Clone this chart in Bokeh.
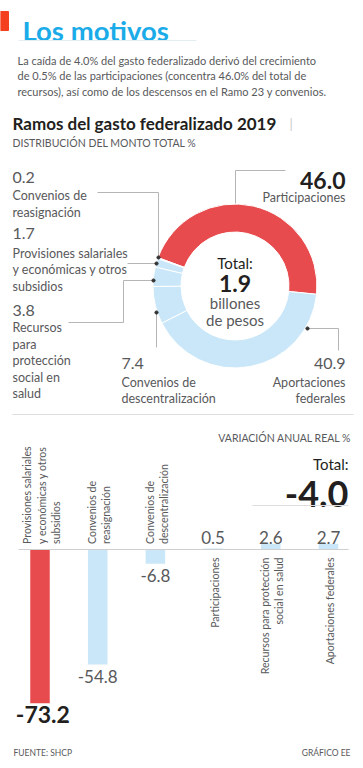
import math
from bokeh.plotting import figure
from bokeh.layouts import column
from bokeh.models import Range1d
from bokeh.core.properties import value
from bokeh.embed import file_html
from bokeh.resources import INLINE

# ---------------- data ----------------
title = "Los motivos"
intro_lines = ["La caída de 4.0% del gasto federalizado derivó del crecimiento",
               "de 0.5% de las participaciones (concentra 46.0% del total de",
               "recursos), así como de los descensos en el Ramo 23 y convenios."]
chart_title = "Ramos del gasto federalizado 2019"
donut_subtitle = "DISTRIBUCIÓN DEL MONTO TOTAL %"
donut_categories = ["Participaciones", "Convenios de reasignación",
                    "Provisiones salariales y económicas y otros subsidios",
                    "Recursos para protección social en salud",
                    "Convenios de descentralización", "Aportaciones federales"]
donut_shares = [46.0, 0.2, 1.7, 3.8, 7.4, 40.9]
total_amount = 1.9
total_unit = ["billones", "de pesos"]

bar_subtitle = "VARIACIÓN ANUAL REAL %"
bar_categories = ["Provisiones salariales y económicas y otros subsidios",
                  "Convenios de reasignación", "Convenios de descentralización",
                  "Participaciones", "Recursos para protección social en salud",
                  "Aportaciones federales"]
bar_values = [-73.2, -54.8, -6.8, 0.5, 2.6, 2.7]
total_change = -4.0
source = "FUENTE: SHCP"
credit = "GRÁFICO EE"

# line breaks used when drawing category names
donut_label_lines = {
    "Participaciones": ["Participaciones"],
    "Convenios de reasignación": ["Convenios de", "reasignación"],
    "Provisiones salariales y económicas y otros subsidios": ["Provisiones salariales", "y económicas y otros", "subsidios"],
    "Recursos para protección social en salud": ["Recursos", "para", "protección", "social en", "salud"],
    "Convenios de descentralización": ["Convenios de", "descentralización"],
    "Aportaciones federales": ["Aportaciones", "federales"],
}
bar_label_lines = {
    "Provisiones salariales y económicas y otros subsidios": ["Provisiones salariales", "y económicas y otros", "subsidios"],
    "Convenios de reasignación": ["Convenios de", "reasignación"],
    "Convenios de descentralización": ["Convenios de", "descentralización"],
    "Participaciones": ["Participaciones"],
    "Recursos para protección social en salud": ["Recursos para protección", "social en salud"],
    "Aportaciones federales": ["Aportaciones federales"],
}

# ---------------- styles ----------------
FONT = "Lato"
GRAY = "#58595b"
DARK = "#231f20"
RED = "#e84b4d"
BLUE = "#c9e7f8"
TITLE_BLUE = "#1aabe8"
LINE = "#b5b5b5"

W = 363
SPLIT = 405
H1 = SPLIT        # page y 0..405
H2 = 768 - SPLIT  # page y 405..768


def make_fig(h, xr, yr):
    f = figure(width=W, height=h, x_range=xr, y_range=yr, output_backend="svg",
               toolbar_location=None, x_axis_location=None, y_axis_location=None,
               min_border=0, outline_line_color=None, background_fill_color="white",
               border_fill_color="white")
    f.xgrid.visible = False
    f.ygrid.visible = False
    return f

# ================= top figure (page pixel coords) =================
p1 = make_fig(H1, Range1d(0, W), Range1d(0, H1))
X = lambda rx: rx
Y = lambda ry: SPLIT - ry


def t1(rx, ry, s, size, color=GRAY, bold=False, align="left"):
    p1.text(x=[X(rx)], y=[Y(ry)], text=[s], text_font=value(FONT),
            text_font_size=f"{size}px", text_font_style="bold" if bold else "normal",
            text_color=color, text_align=align, text_baseline="alphabetic")


def lines1(rx, ry, lines, size, step, color=GRAY, align="left"):
    for j, s in enumerate(lines):
        t1(rx, ry + j * step, s, size, color=color, align=align)

# header
p1.quad(left=[0], right=[8], top=[Y(11)], bottom=[Y(30)], color="#f4401f")
t1(22, 30, title, 27.5, color=TITLE_BLUE, bold=True)
p1.line(x=[X(18), X(196)], y=[Y(40), Y(40)], line_color="#e3edf2", line_width=1)
lines1(17, 59.5, intro_lines, 11, 15.8)
t1(12, 123, chart_title, 17, color=DARK, bold=True)
t1(289, 123, "|", 13, color="#c8c8c8")
t1(12, 142, donut_subtitle, 10.5)

# donut
cx, cy = X(234.5), Y(285.5)
start0 = -5.8
starts, ends = [], []
acc = start0
tot = sum(donut_shares)
for s in donut_shares:
    starts.append(math.radians(acc))
    acc += s / tot * 360.0
    ends.append(math.radians(acc))
dcolors = [RED if s == max(donut_shares) else BLUE for s in donut_shares]
p1.annular_wedge(x=[cx] * len(donut_shares), y=[cy] * len(donut_shares),
                 inner_radius=54, outer_radius=82, start_angle=starts, end_angle=ends,
                 fill_color=dcolors, line_color="white", line_width=1)

# leader lines
leaders = [
    [(285, 170), (235, 170), (235, 203)],
    [(97, 192), (158, 192), (158, 257)],
    [(127, 263), (156, 263)],
    [(68, 322), (123, 322), (123, 280), (153, 280)],
    [(156, 312), (156, 347)],
    [(307, 328), (338, 328), (338, 350)],
]
p1.multi_line(xs=[[X(a) for a, b in L] for L in leaders],
              ys=[[Y(b) for a, b in L] for L in leaders], line_color=LINE, line_width=1)
dots = [(158, 257), (156, 263), (153, 280), (156, 312), (307, 328)]
p1.scatter(x=[X(a) for a, b in dots], y=[Y(b) for a, b in dots], size=3.2,
           color="#333333")

# donut labels
LS = 12.5
fmt = lambda v: f"{v:.1f}"
sh = dict(zip(donut_categories, donut_shares))
t1(345, 180, fmt(sh["Participaciones"]), 23, color=DARK, bold=True, align="right")
lines1(345, 197, donut_label_lines["Participaciones"], LS, 16.5, align="right")
t1(12, 177, fmt(sh["Convenios de reasignación"]), 16)
lines1(12, 195, donut_label_lines["Convenios de reasignación"], LS, 16.5)
k = "Provisiones salariales y económicas y otros subsidios"
t1(12, 233, fmt(sh[k]), 16)
lines1(12, 253, donut_label_lines[k], LS, 16.3)
k = "Recursos para protección social en salud"
t1(12, 310, fmt(sh[k]), 16)
lines1(12, 327, donut_label_lines[k], LS, 16.5)
k = "Convenios de descentralización"
t1(121, 363, fmt(sh[k]), 16)
lines1(121, 382, donut_label_lines[k], LS, 16)
k = "Aportaciones federales"
t1(345, 363, fmt(sh[k]), 16, align="right")
lines1(345, 382, donut_label_lines[k], LS, 16, align="right")

# donut center
t1(234.5, 262, "Total:", 15, color=DARK, align="center")
t1(234.5, 283, fmt(total_amount), 23, color=DARK, bold=True, align="center")
t1(234.5, 302, total_unit[0], 15, align="center")
t1(234.5, 319, total_unit[1], 15, align="center")

# ================= bottom figure (index / value scales) =================
STEP = 57.7      # px per category
PXU = 2.1        # px per percentage point
C0 = 39.5        # page x of first bar centre
Z0 = 549         # page y of zero line
p2 = make_fig(H2, Range1d(-C0 / STEP, (W - C0) / STEP),
              Range1d(-(768 - Z0) / PXU, (Z0 - SPLIT) / PXU))
fx = lambda rx: (rx - C0) / STEP
fy = lambda ry: (Z0 - ry) / PXU


def t2(x, y, s, size, color=GRAY, bold=False, align="left", baseline="alphabetic",
       angle=0.0, yoff=0):
    p2.text(x=[x], y=[y], text=[s], text_font=value(FONT), text_font_size=f"{size}px",
            text_font_style="bold" if bold else "normal", text_color=color,
            text_align=align, text_baseline=baseline, angle=angle, y_offset=yoff)

p2.line(x=[fx(12), fx(353)], y=[fy(414), fy(414)], line_color="#dddddd", line_width=1)
t2(fx(351), fy(437), bar_subtitle, 10.5, align="right")
t2(fx(348), fy(463), "Total:", 15, color=DARK, align="right")
t2(fx(348), fy(493), fmt(total_change), 36, color=DARK, bold=True, align="right")
p2.line(x=[fx(252), fx(348)], y=[fy(505), fy(505)], line_color="#dddddd", line_width=1)

idx = list(range(len(bar_categories)))
bcolors = [RED if v == min(bar_values) else BLUE for v in bar_values]
p2.vbar(x=idx, top=bar_values, bottom=0, width=0.338, fill_color=bcolors, line_color=None)
p2.line(x=[fx(18), fx(348)], y=[0, 0], line_color="#cfcfcf", line_width=1)

# value labels
for i, v in enumerate(bar_values):
    if v < 0:
        if v == min(bar_values):
            t2(i + 0.05, v, fmt(v), 23, color=DARK, bold=True, align="center",
               baseline="top", yoff=3)
        else:
            t2(i, v, fmt(v), 17, align="center", baseline="top", yoff=5)
    else:
        t2(i, fy(537), fmt(v), 17, align="center")

# rotated category labels
LSTEP = 14.3 / STEP
for i, (c, v) in enumerate(zip(bar_categories, bar_values)):
    L = bar_label_lines[c]
    n = len(L)
    for j, s in enumerate(L):
        x = i + 1.5 / STEP + (j - (n - 1) / 2) * LSTEP
        if v < 0:
            t2(x, fy(543.5), s, 10.6, align="left", baseline="middle", angle=math.pi / 2)
        else:
            t2(x, fy(557), s, 10.6, align="right", baseline="middle", angle=math.pi / 2)

t2(fx(13), fy(752), source, 8.5)
t2(fx(350), fy(752), credit, 8.5, align="right")

layout = column(p1, p2, spacing=0)
open("out.html", "w").write(file_html(layout, INLINE))
